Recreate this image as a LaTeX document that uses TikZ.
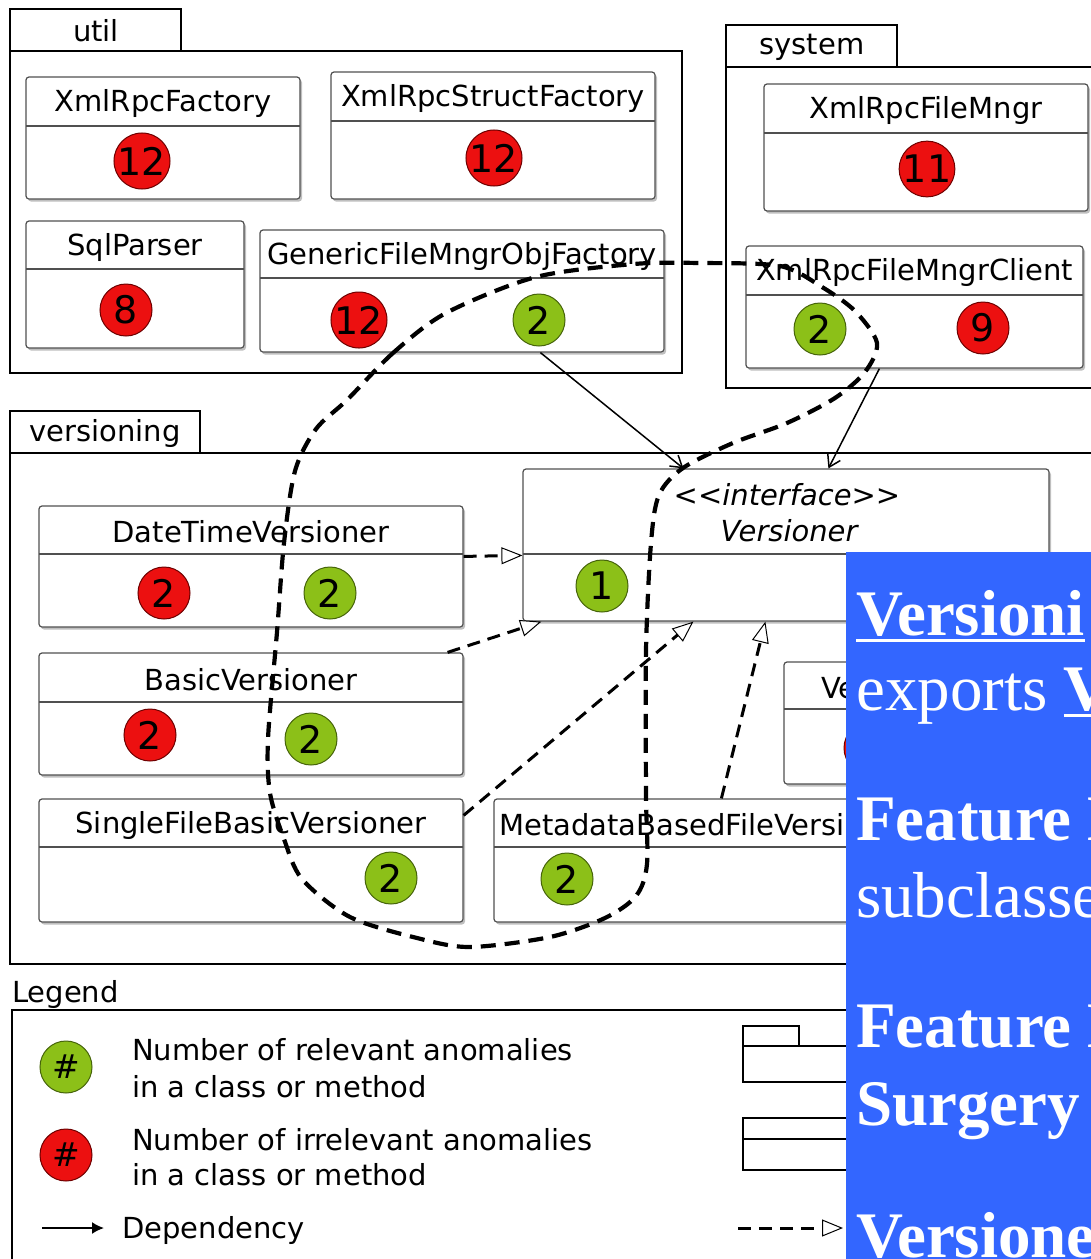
\documentclass[tikz,border=0pt]{standalone}
\usepackage{fontspec}
\usetikzlibrary{arrows.meta,shadows,fit,calc}
\newfontfamily\umlfont{DejaVu Sans}
\newfontfamily\notefont{Liberation Serif}

\definecolor{okfill}{RGB}{140,192,24}
\definecolor{okline}{RGB}{70,100,10}
\definecolor{badfill}{RGB}{236,16,16}
\definecolor{badline}{RGB}{110,0,0}
\definecolor{notebg}{RGB}{51,102,255}
\definecolor{boxline}{RGB}{80,80,80}

% thick underline that follows the width of its text
\newcommand\thickul[1]{\setbox0=\hbox{#1}\rlap{\rule[-7pt]{\wd0}{3pt}}\box0}

\tikzset{
  pkg/.style={draw=black, line width=1.4pt, fill=white, inner sep=0pt},
  pkglabel/.style={font=\umlfont\fontsize{29}{34}\selectfont, inner sep=0pt},
  classbox/.style={draw=boxline, line width=1.2pt, fill=white, rounded corners=3pt,
    inner sep=0pt, drop shadow={shadow xshift=2pt, shadow yshift=-2.5pt, opacity=0.25, fill=black}},
  plainbox/.style={draw=black, line width=1.3pt, fill=white, inner sep=0pt},
  divider/.style={draw=boxline, line width=1.1pt},
  classtitle/.style={font=\umlfont\fontsize{29}{34}\selectfont, inner sep=0pt},
  okmark/.style={circle, draw=okline, line width=1pt, fill=okfill, minimum size=52pt,
    inner sep=0pt, font=\umlfont\fontsize{38}{38}\selectfont},
  badmark/.style={circle, draw=badline, line width=1pt, fill=badfill, minimum size=52pt,
    inner sep=0pt, font=\umlfont\fontsize{38}{38}\selectfont},
  dependency/.style={line width=1.5pt, -{Straight Barb[length=11pt, width=14pt, line width=1.5pt]}},
  realizes/.style={line width=3pt, dash pattern=on 13pt off 8pt,
    -{Triangle[length=21pt, width=17pt, fill=white, line width=1pt]}},
  smellring/.style={line width=4.2pt, dash pattern=on 15pt off 9pt},
  legtext/.style={font=\umlfont\fontsize{29}{34}\selectfont, inner sep=0pt, anchor=base west},
  notetext/.style={text=white, inner sep=0pt, anchor=base west,
    font=\notefont\fontsize{65}{75}\selectfont},
}

% class frame: name, x1, y1, x2, y2, y of the divider
\newcommand\umlframe[6]{%
  \node[classbox, fit={(#2,#3) (#4,#5)}] (#1) {};
  \draw[divider] (#2,#6) -- (#4,#6);}
% class frame with a centred title
\newcommand\umlclass[7]{%
  \umlframe{#1}{#2}{#3}{#4}{#5}{#6}%
  \node[classtitle] (#1-title) at ({(#2+#4)/2},{(#3+#6)/2+2}) {#7};}

\begin{document}
\begin{tikzpicture}[x=1pt, y=-1pt]
\useasboundingbox (0,0) rectangle (1091,1259);
\clip (0,0) rectangle (1091,1259);
\fill[white] (0,0) rectangle (1091,1259);

% ---------- packages ----------
\node[pkg, fit={(10,51) (682,373)}] (utilpkg) {};
\node[pkg, fit={(10,9) (181,51)}] (utiltab) {};
\node[pkglabel] (utillbl) at (96,31) {util};

\node[pkg, fit={(726,67) (1100,388)}] (syspkg) {};
\node[pkg, fit={(726,25) (897,67)}] (systab) {};
\node[pkglabel] (syslbl) at (812,47) {system};

\node[pkg, fit={(10,453) (1100,964)}] (verpkg) {};
\node[pkg, fit={(10,411) (200,453)}] (vertab) {};
\node[pkglabel] (verlbl) at (105,433) {versioning};

% ---------- util classes ----------
\umlclass{xrf}{26}{77}{300}{199}{126}{XmlRpcFactory}
\node[badmark] (xrf-bad) at (142,161) {12};
\umlclass{xrsf}{331}{72}{655}{199}{121}{XmlRpcStructFactory}
\node[badmark] (xrsf-bad) at (494,158) {12};
\umlclass{sqlp}{26}{221}{244}{348}{269}{SqlParser}
\node[badmark] (sqlp-bad) at (126,310) {8};
\umlclass{gfm}{260}{230}{664}{352}{278}{GenericFileMngrObjFactory}
\node[badmark] (gfm-bad) at (359,320) {12};
\node[okmark] (gfm-ok) at (539,320) {2};

% ---------- system classes ----------
\umlclass{xfm}{764}{84}{1088}{211}{133}{XmlRpcFileMngr}
\node[badmark] (xfm-bad) at (927,169) {11};
\umlclass{xfmc}{746}{246}{1083}{368}{295}{XmlRpcFileMngrClient}
\node[okmark] (xfmc-ok) at (820,329) {2};
\node[badmark] (xfmc-bad) at (983,328) {9};

% ---------- versioning classes ----------
\umlframe{ver}{523}{469}{1049}{621}{554}
\node[classtitle, font=\umlfont\itshape\fontsize{29}{34}\selectfont] (ver-stereo) at (787,495) {<{}<interface>{}>};
\node[classtitle, font=\umlfont\itshape\fontsize{29}{34}\selectfont] (ver-title) at (789,531) {Versioner};
\node[okmark] (ver-ok) at (602,586) {1};

\umlclass{dtv}{39}{506}{463}{627}{554}{DateTimeVersioner}
\node[badmark] (dtv-bad) at (164,593) {2};
\node[okmark] (dtv-ok) at (330,593) {2};

\umlclass{bv}{39}{653}{463}{775}{702}{BasicVersioner}
\node[badmark] (bv-bad) at (150,735) {2};
\node[okmark] (bv-ok) at (311,739) {2};

\umlclass{sfbv}{39}{799}{463}{922}{847}{SingleFileBasicVersioner}
\node[okmark] (sfbv-ok) at (391,878) {2};

\umlframe{mbfv}{494}{799}{960}{922}{847}
\node[classtitle, anchor=west] (mbfv-title) at (499,825) {MetadataBasedFileVersi};
\node[okmark] (mbfv-ok) at (567,879) {2};

\umlframe{vx}{784}{662}{960}{784}{709}
\node[classtitle, anchor=west] (vx-title) at (821,688) {Ve};
\node[badmark] (vx-bad) at (870,748) {};

% ---------- dependencies ----------
\draw[dependency] ($(gfm.south west)+(281,0)$) -- ($(ver.north west)+(161,0)$);
\draw[dependency] ($(xfmc.south west)+(134,0)$) -- ($(ver.north west)+(306,0)$);

% ---------- realizations of Versioner ----------
\draw[realizes] ($(dtv.north east)+(0,51)$) -- ($(ver.north west)+(0,87)$);
\draw[realizes] ($(bv.north east)+(-16,0)$) -- ($(ver.south west)+(19,0)$);
\draw[realizes] ($(sfbv.north east)+(0,17)$) -- ($(ver.south west)+(171,0)$);
\draw[realizes] ($(mbfv.north west)+(228,0)$) -- ($(ver.south west)+(243,0)$);

% ---------- ring around the relevant anomalies ----------
\draw[smellring] plot[smooth cycle, tension=0.5] coordinates {
  (347,400) (393,353) (446,313) (536,277) (634,264) (700,263) (780,266)
  (822,287) (855,311) (877,343) (865,372) (835,398) (787,423) (733,443)
  (683,468) (659,495) (651,543) (646,650) (646,793) (647,864) (636,896)
  (605,918) (550,937) (470,947) (417,938) (350,917) (302,879) (284,839)
  (270,793) (268,739) (277,632) (284,543) (295,471) (316,429)};

% ---------- legend ----------
\node[legtext] (leglbl) at (12,1002) {Legend};
\node[pkg, fit={(12,1010) (1100,1275)}] (legbox) {};
\node[okmark, font=\umlfont\fontsize{33}{33}\selectfont] (leg-ok) at (66,1067) {\#};
\node[legtext] (leg-ok1) at (132,1060) {Number of relevant anomalies};
\node[legtext] (leg-ok2) at (132,1097) {in a class or method};
\node[badmark, font=\umlfont\fontsize{33}{33}\selectfont] (leg-bad) at (66,1155) {\#};
\node[legtext] (leg-bad1) at (132,1150) {Number of irrelevant anomalies};
\node[legtext] (leg-bad2) at (132,1185) {in a class or method};
\coordinate (legdepA) at (42,1228);
\coordinate (legdepB) at (104,1228);
\draw[line width=1.8pt, -{Latex[length=12pt, width=12pt]}] (legdepA) -- (legdepB);
\node[legtext] (leg-dep) at (122,1238) {Dependency};

\node[plainbox, fit={(743,1046) (900,1082)}] (leg-pkgbody) {};
\node[plainbox, fit={(743,1026) (799,1046)}] (leg-pkgtab) {};
\node[plainbox, fit={(743,1118) (900,1170)}] (leg-class) {};
\draw[line width=1.3pt] (leg-class.west |- 0,1139) -- (leg-class.east |- 0,1139);
\coordinate (legrealA) at (738,1228);
\coordinate (legrealB) at (843,1228);
\draw[realizes] (legrealA) -- (legrealB);

% ---------- note ----------
\node[fill=notebg, inner sep=0pt, fit={(846,552) (1100,1275)}] (note) {};
\node[notetext] (note1) at (856,635) {\thickul{\bfseries Versioni}};
\node[notetext] (note2) at (856,710) {exports \thickul{\bfseries V}};
\node[notetext] (note3) at (856,840) {\bfseries Feature E};
\node[notetext] (note4) at (856,917) {subclasse};
\node[notetext] (note5) at (856,1047) {\bfseries Feature E};
\node[notetext] (note6) at (856,1125) {\bfseries Surgery i};
\node[notetext] (note7) at (856,1257) {\bfseries Versione};
\end{tikzpicture}
\end{document}
